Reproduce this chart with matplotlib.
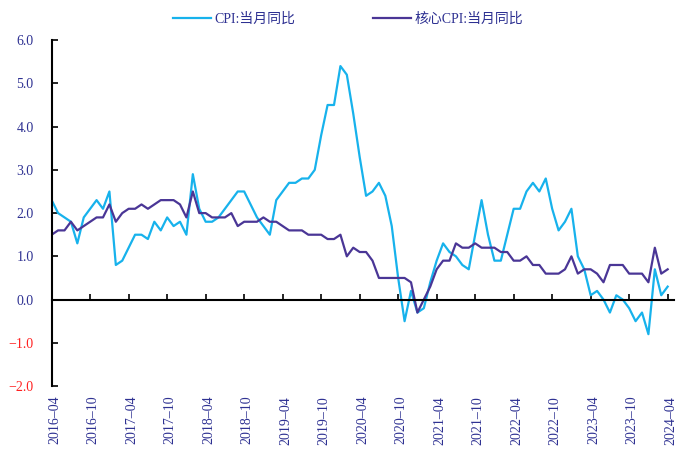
import matplotlib
matplotlib.use("Agg")
import matplotlib.pyplot as plt
from matplotlib.ticker import FixedLocator
from matplotlib.transforms import ScaledTranslation

plt.rcParams['font.family'] = ['Liberation Serif', 'Noto Sans CJK SC', 'DejaVu Sans']

# Monthly data, 2016-04 .. 2024-04
months = [f"{2016 + (3 + i) // 12}-{(3 + i) % 12 + 1:02d}" for i in range(97)]

cpi = [2.3, 2.0, 1.9, 1.8, 1.3, 1.9, 2.1, 2.3, 2.1,
       2.5, 0.8, 0.9, 1.2, 1.5, 1.5, 1.4, 1.8, 1.6, 1.9, 1.7, 1.8,
       1.5, 2.9, 2.1, 1.8, 1.8, 1.9, 2.1, 2.3, 2.5, 2.5, 2.2, 1.9,
       1.7, 1.5, 2.3, 2.5, 2.7, 2.7, 2.8, 2.8, 3.0, 3.8, 4.5, 4.5,
       5.4, 5.2, 4.3, 3.3, 2.4, 2.5, 2.7, 2.4, 1.7, 0.5, -0.5, 0.2,
       -0.3, -0.2, 0.4, 0.9, 1.3, 1.1, 1.0, 0.8, 0.7, 1.5, 2.3, 1.5,
       0.9, 0.9, 1.5, 2.1, 2.1, 2.5, 2.7, 2.5, 2.8, 2.1, 1.6, 1.8,
       2.1, 1.0, 0.7, 0.1, 0.2, 0.0, -0.3, 0.1, 0.0, -0.2, -0.5, -0.3,
       -0.8, 0.7, 0.1, 0.3]

core_cpi = [1.5, 1.6, 1.6, 1.8, 1.6, 1.7, 1.8, 1.9, 1.9,
            2.2, 1.8, 2.0, 2.1, 2.1, 2.2, 2.1, 2.2, 2.3, 2.3, 2.3, 2.2,
            1.9, 2.5, 2.0, 2.0, 1.9, 1.9, 1.9, 2.0, 1.7, 1.8, 1.8, 1.8,
            1.9, 1.8, 1.8, 1.7, 1.6, 1.6, 1.6, 1.5, 1.5, 1.5, 1.4, 1.4,
            1.5, 1.0, 1.2, 1.1, 1.1, 0.9, 0.5, 0.5, 0.5, 0.5, 0.5, 0.4,
            -0.3, 0.0, 0.3, 0.7, 0.9, 0.9, 1.3, 1.2, 1.2, 1.3, 1.2, 1.2,
            1.2, 1.1, 1.1, 0.9, 0.9, 1.0, 0.8, 0.8, 0.6, 0.6, 0.6, 0.7,
            1.0, 0.6, 0.7, 0.7, 0.6, 0.4, 0.8, 0.8, 0.8, 0.6, 0.6, 0.6,
            0.4, 1.2, 0.6, 0.7]

series_names = ["CPI:当月同比", "核心CPI:当月同比"]
yticks = [-2.0, -1.0, 0.0, 1.0, 2.0, 3.0, 4.0, 5.0, 6.0]

c_cpi = "#17B2EC"
c_core = "#4A3696"
navy = "#2E3192"

fig = plt.figure(figsize=(6.87, 4.51), dpi=100)
ax = fig.add_axes([0.0752, 0.144, 0.906, 0.767])

x = list(range(len(months)))
ax.plot(x, cpi, color=c_cpi, lw=1.6, label=series_names[0])
ax.plot(x, core_cpi, color=c_core, lw=1.6, label=series_names[1])

ax.set_xlim(0, 97)
ax.set_ylim(-2.0, 6.0)

for s in ['top', 'right']:
    ax.spines[s].set_visible(False)
ax.spines['left'].set_linewidth(1.5)
ax.spines['bottom'].set_position(('data', 0))
ax.spines['bottom'].set_linewidth(1.5)

ax.set_yticks(yticks)
ax.set_yticklabels([f"{v:.1f}".replace("-", "\u2212") for v in yticks], fontsize=10)
for lab, v in zip(ax.get_yticklabels(), yticks):
    lab.set_color("#FF2020" if v < 0 else navy)
ax.tick_params(axis='y', direction='in', length=4, width=1.2, pad=13)

tick_idx = list(range(0, len(months), 6))
ax.set_xticks(tick_idx)
ax.tick_params(axis='x', direction='in', length=4, width=1.2, labelbottom=False)

# bottom label axis at the bottom of the plot (y = -2.0)
sec = ax.secondary_xaxis(0.0)
sec.spines['bottom'].set_visible(False)
sec.xaxis.set_major_locator(FixedLocator(tick_idx))
sec.set_xticklabels([months[i].replace("-", "\u2013") for i in tick_idx],
                    rotation=90, fontsize=10, color=navy)
sec.tick_params(axis='x', length=0, pad=7)
offset = ScaledTranslation(3 / 100, 0, fig.dpi_scale_trans)
for lab in sec.get_xticklabels():
    lab.set_transform(lab.get_transform() + offset)

fig.legend(loc='upper center', bbox_to_anchor=(0.507, 1.0), ncol=2, frameon=False,
           fontsize=10, handlelength=2.7, columnspacing=5.6, handletextpad=0.3,
           labelcolor=navy)

fig.savefig("out.png", dpi=100)
